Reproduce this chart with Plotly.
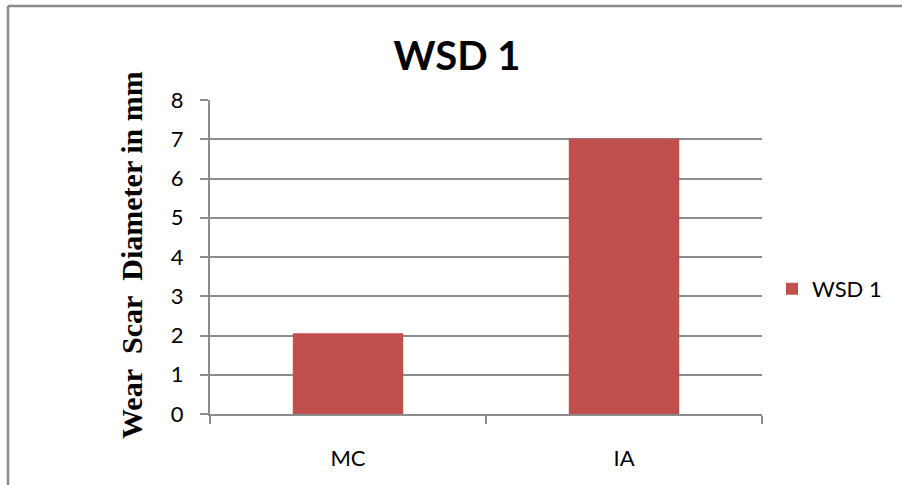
import plotly.graph_objects as go

categories = ["MC", "IA"]
wsd1_values = [2.06, 7.02]
series_name = "WSD 1"
y_ticks = [0, 1, 2, 3, 4, 5, 6, 7, 8]

W, H = 902, 485
L, R, T, B = 210, 140, 100, 71
pw, ph = W - L - R, H - T - B

def px_x(px):
    return (px - L) / pw

def px_y(py):
    return (H - B - py) / ph

fig = go.Figure()
fig.add_trace(go.Bar(
    x=categories, y=wsd1_values, name=series_name,
    marker=dict(color="#C0504D", line=dict(width=0)),
    showlegend=True,
))

grid = "#8C8C8C"
fig.update_layout(
    width=W, height=H,
    margin=dict(l=L, r=R, t=T, b=B, autoexpand=False),
    paper_bgcolor="white", plot_bgcolor="white",
    bargap=0.6,
    title=dict(text="<b>WSD 1</b>", x=457 / W, xanchor="center",
               y=1 - 56 / H, yanchor="middle",
               font=dict(family="Lato", size=40, color="black")),
    font=dict(family="Lato", size=22, color="black"),
    showlegend=True,
    legend=dict(x=px_x(772), y=px_y(289), xanchor="left", yanchor="middle",
                font=dict(family="Lato", size=22, color="black"),
                bgcolor="rgba(0,0,0,0)", itemwidth=30),
    xaxis=dict(showgrid=False, showline=True, linecolor=grid, linewidth=2,
               ticks="outside", tickson="boundaries", ticklen=8, tickcolor=grid, tickwidth=2,
               ticklabelstandoff=24, automargin=False,
               tickfont=dict(family="Lato", size=22, color="black")),
    yaxis=dict(range=[0, 8], tickvals=y_ticks, showgrid=True, gridcolor=grid, gridwidth=2,
               showline=True, linecolor=grid, linewidth=2, zeroline=False,
               ticks="outside", ticklen=8, tickcolor=grid, tickwidth=2,
               ticklabelstandoff=12, automargin=False,
               tickfont=dict(family="Lato", size=22, color="black")),
)

# y-axis title as rotated annotation
fig.add_annotation(text="<b>Wear\u00a0\u00a0Scar\u00a0\u00a0Diameter in mm</b>",
                   xref="paper", yref="paper", x=px_x(131), y=px_y(255),
                   xanchor="center", yanchor="middle", textangle=-90, showarrow=False,
                   font=dict(family="Liberation Serif", size=30, color="black"))

# outer chart border (top and left visible)
fig.add_shape(type="line", xref="paper", yref="paper",
              x0=px_x(8), x1=px_x(905), y0=px_y(6), y1=px_y(6),
              line=dict(color="#8C8C8C", width=2.5))
fig.add_shape(type="line", xref="paper", yref="paper",
              x0=px_x(8), x1=px_x(8), y0=px_y(6), y1=px_y(490),
              line=dict(color="#8C8C8C", width=2.5))

fig.write_html("out.html", config={"displayModeBar": False},
               post_script="document.body.style.margin='0';document.body.style.padding='0';")
